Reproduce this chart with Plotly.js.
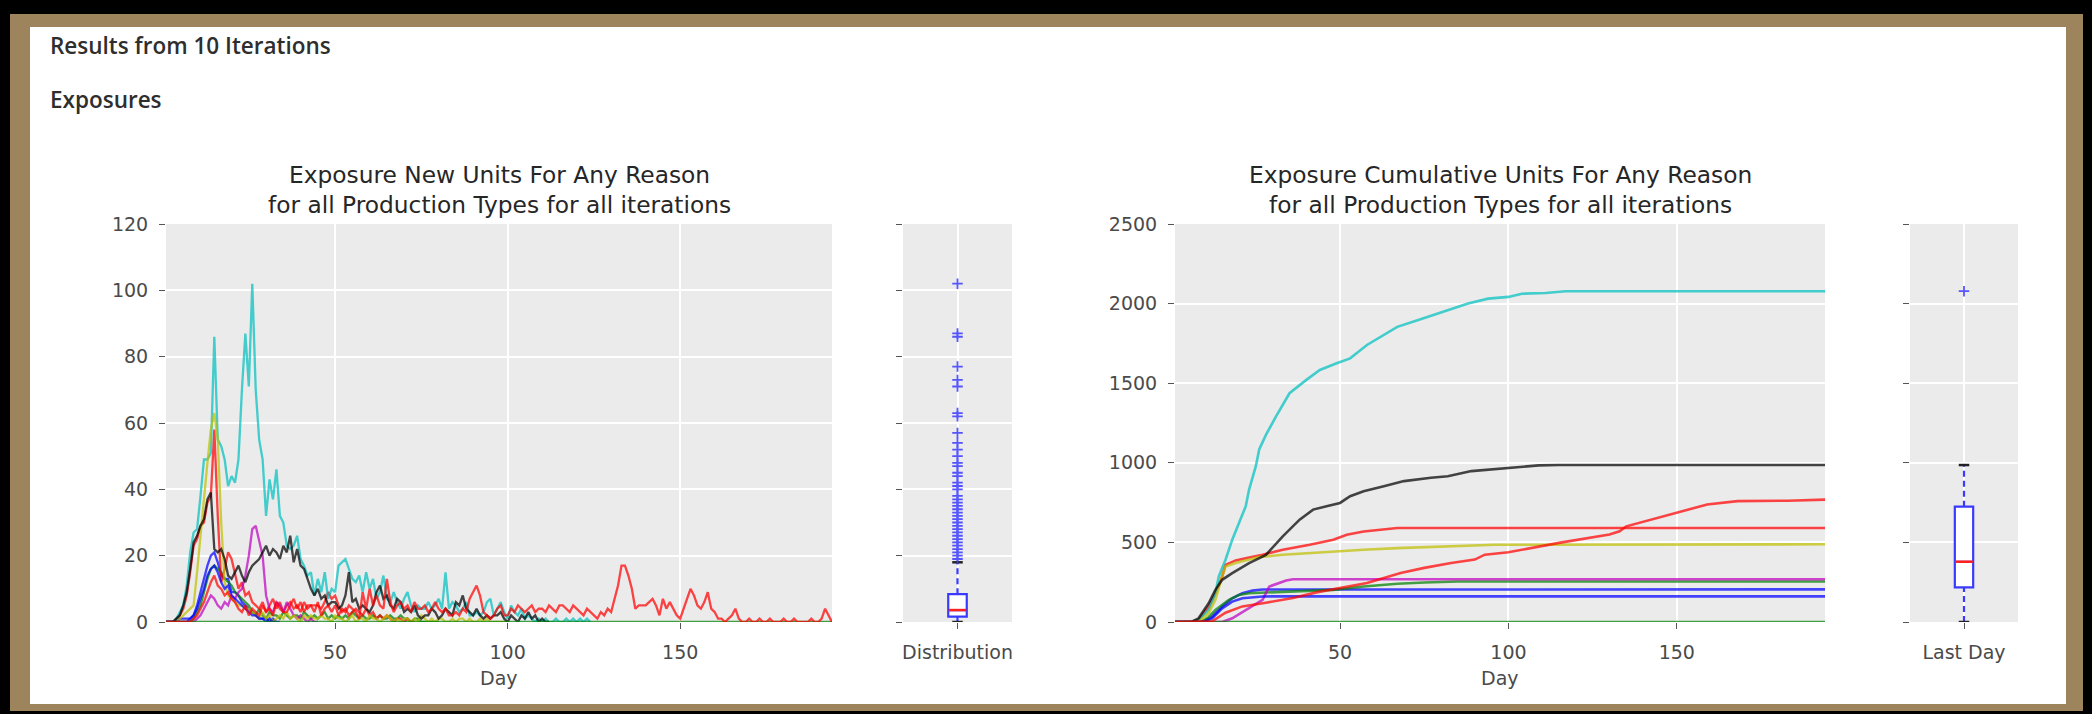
<!DOCTYPE html>
<html><head><meta charset="utf-8">
<script src="https://cdn.plot.ly/plotly-3.0.1.min.js"></script>
<style>
html,body{margin:0;padding:0;background:#000;width:2092px;height:714px;overflow:hidden}
#tan{position:absolute;left:10px;top:14px;width:2073px;height:697px;background:#9d845c}
#white{position:absolute;left:30px;top:27px;width:2036px;height:677px;background:#fff}
#chart{position:absolute;left:0;top:0;width:2092px;height:714px}
</style></head><body>
<div id="tan"></div><div id="white"></div><div id="chart"></div>
<script>
// ---------------- data ----------------
const headerText = 'Results from 10 Iterations';
const sectionText = 'Exposures';
const titleNew = 'Exposure New Units For Any Reason<br>for all Production Types for all iterations';
const titleCum = 'Exposure Cumulative Units For Any Reason<br>for all Production Types for all iterations';
const xLabel = 'Day';
const distLabel = 'Distribution';
const lastLabel = 'Last Day';

const dayRange = [1, 194];
const dayTicks = [50, 100, 150];
const newTicks = [0, 20, 40, 60, 80, 100, 120];
const cumTicks = [0, 500, 1000, 1500, 2000, 2500];

// daily new exposures per iteration (day 1 onward)
const newBlue1 = [0,0,0,0,1,1,1,1,2,5, 9,13,17,20,21,18,14,13,13,9, 9,8,6,5,4,3,2,1,1,1, 0,1,0,0];
const newGreen1 = [0,0,0,0,0,0,0,0,1,3, 5,9,13,16,17,16,15,13,12,11, 9,8,7,6,5,
  3,2,4,2,1,3,2,2,1,3, 2,1,2,2,1,3,2,1,2,1, 2,3,1,2,1,2,1,2,1,3, 2,1,2,1,1,2,1,2,1,1, 2,1,1,2,1,1,0,1,1,0, 0,0,0,0,0];
const newRed1 = [0,0,0,1,2,4,8,15,23,25, 29,30,36,38,58,32,12,16,21,19, 14,10,12,8,9,6,5,4,6,3,
  5,7,4,6,3,5,6,4,5,3, 6,4,5,5,5,4,6,9,7,8, 5,3,4,2,3,4,3,2,4,2, 3,1,2,1,2,1,0,1,1,0, 1,0,0];
const newCyan = [0,0,0,1,3,5,11,21,27,28, 38,49,49,51,86,55,53,49,41,44, 42,49,70,87,71,102,70,55,49,32,
  43,37,46,32,30,23,22,23,26,19, 17,14,15,8,13,9,15,7,10,9, 17,18,19,16,13,12,14,9,15,10,
  13,7,9,14,7,6,9,6,4,7, 9,5,3,5,4,4,6,4,5,7, 4,15,4,6,5,3,4,6,2,2, 3,2,3,6,7,2,4,6,3,1,
  5,3,2,4,1,2,1,0,1,0, 1,0,0,1,0,0,1,0,1,0, 1,0,1,0];
const newMagenta = [0,0,0,0,0,0,0,0,0,1, 2,4,6,8,7,5,4,6,5,8, 7,9,10,14,20,28,29,24,20,8,
  4,3,6,5,3,6,4,2,1,2, 1,0,1,0,0];
const newYellow = [0,0,0,0,1,2,3,4,5,15, 25,37,48,58,63,55,30,12,8,7, 6,5,5,4,4,3,
  2,1,3,1,2,0,1,2,1,3,1,2,1,0,2,1,2,1,1,2,1,
  1,0,2,1,1,0,1,2,0,1,1,0,2,1,1,0,1,2,1,0,
  1,0,1,1,0,1,0,2,1,0,1,0,1,1,0,0,1,0,1,1,0,1,0,0,1,0,1,0,0, 0,0,0,0];
const newBlack = [0,0,0,1,2,5,9,16,24,26, 29,31,37,39,22,21,22,19,14,13, 15,17,14,12,15,17,18,19,21,23,
  20,22,21,19,23,21,26,18,22,17, 16,13,10,8,10,7,8,5,6,6, 4,5,8,15,6,7,4,5,4,3,
  5,9,11,7,8,5,4,7,6,3, 4,3,5,2,1,2,2,4,3,1, 2,4,3,2,6,5,8,4,3,2, 4,2,1,2,1,2,2,3,1,0,
  2,1,0,2,1,3,1,2,0,1, 0,0];
const newBlue2 = [0,0,0,0,0,0,0,1,2,4, 7,10,14,16,17,15,12,10,11,8, 7,6,5,4,3,2,2,1,1,0, 1,0,0];
const newGreen2Days = [1, 194];
const newGreen2 = [0, 0];
const newRed2 = [0,0,0,0,0,0,0,0,1, 2,4,6,9,12,14,11, 10,8,9,7,6, 4,3,5,2,4,3,2, 5,3,4,2,6,4,3,3,
  5,7,4,6,3,5,5, 3,6,2,4,5,3,5, 2,4,3,5,4,3,1,9, 4,10,5,8,5, 4,13,6,3,5, 6,4,5,3,6,4,4,
  5,3,4,6,4,3,4,2, 2,3,2,4,3,7, 9,11,8,3, 2,1,2,4,5,2,2,
  4,3,5,4,3,4,5,3,4,4,3,5,4,3,5, 5,4,3,5,4,3,2,4,3,2,1,3,2,4,3,
  7,11,17,17,14,10,4, 5,5,5,6,7,5,2,7,4,6,4,2,1, 4,7,10,8,5,4,6,9,4, 3,1,1,0,1,2,4,1,0,
  0,1,0,0,1,0,0,1,0,0,0,1,0,0,1,0,0,0,0,1,0,0,1,4,2,0];

// cumulative exposures per iteration (day, value pairs)
const cumBlue1Days = [1,8,10,12,15,18,21,24,27,194];
const cumBlue1 = [0,0,10,34,97,149,181,197,204,205];
const cumGreen1Days = [1,9,11,13,17,20,23,28,38,48,57,67,75,85,194];
const cumGreen1 = [0,2,30,76,139,170,181,185,191,202,223,240,248,254,254];
const cumRed1Days = [1,6,8,11,13,15,16,19,22,27,33,41,48,52,57,67,194];
const cumRed1 = [0,1,13,97,181,286,359,387,401,422,454,485,517,548,569,590,590];
const cumCyanDays = [1,6,8,11,13,14,16,18,20,22,23,25,26,28,31,35,40,44,49,53,58,62,67,73,79,84,88,94,100,104,111,117,194];
const cumCyan = [0,2,13,76,181,286,391,517,622,727,832,979,1084,1175,1292,1437,1521,1583,1625,1656,1740,1792,1854,1896,1937,1969,2000,2031,2042,2062,2067,2078,2078];
const cumMagentaDays = [1,15,18,22,25,27,29,31,34,36,194];
const cumMagenta = [0,0,23,76,118,139,223,240,261,269,269];
const cumYellowDays = [1,8,11,13,15,16,19,26,33,48,57,67,82,96,194];
const cumYellow = [0,0,55,139,286,349,370,408,422,443,454,464,475,485,488];
const cumBlackDays = [1,6,8,11,13,15,18,23,28,33,38,42,46,50,53,57,63,69,77,82,89,96,100,109,115,194];
const cumBlack = [0,2,23,118,202,265,307,370,422,538,643,706,727,748,790,821,853,885,906,916,948,962,970,984,986,986];
const cumBlue2Days = [1,8,10,12,15,18,21,24,27,30,194];
const cumBlue2 = [0,0,5,23,86,128,149,155,160,161,161];
const cumGreen2Days = [1,194];
const cumGreen2 = [0,0];
const cumRed2Days = [1,9,12,16,21,28,36,43,50,58,63,68,75,83,90,93,100,115,130,133,135,146,150,159,168,183,194];
const cumRed2 = [0,0,4,58,98,121,151,186,214,245,277,308,340,371,392,423,438,497,549,570,601,664,686,738,759,762,769];

// box plot of all daily values
const distQ1 = [1.6];
const distMedian = [3.6];
const distQ3 = [8.4];
const distLowerWhisker = [0];
const distUpperWhisker = [18];
const distOutliers = [102,87,86,77,73,71,63,62,57,54,52,50,48,47,45,44,42,41,40,38,37,36,35,34,33,32,31,30,29,28,27,26,25,24,23,22,21,20,19];

// ---------------- layout helpers ----------------
const W = 2092, H = 714;
const px = x => x / W;
const py = y => 1 - y / H;
const days = Array.from({length: 194}, (_, i) => i + 1);

const C = {b:'#0000ff', g:'#008000', r:'#ff0000', c:'#00bfbf', m:'#bf00bf', y:'#bfbf00', k:'#000000'};
const boxBlue = '#3a3aff';

const dailySeries = [
  [newBlue1, null, C.b], [newGreen1, null, C.g], [newRed1, null, C.r], [newCyan, null, C.c],
  [newMagenta, null, C.m], [newYellow, null, C.y], [newBlack, null, C.k], [newBlue2, null, C.b],
  [newGreen2, newGreen2Days, C.g], [newRed2, null, C.r]
];
const cumSeries = [
  [cumBlue1, cumBlue1Days, C.b], [cumGreen1, cumGreen1Days, C.g], [cumRed1, cumRed1Days, C.r],
  [cumCyan, cumCyanDays, C.c], [cumMagenta, cumMagentaDays, C.m], [cumYellow, cumYellowDays, C.y],
  [cumBlack, cumBlackDays, C.k], [cumBlue2, cumBlue2Days, C.b], [cumGreen2, cumGreen2Days, C.g],
  [cumRed2, cumRed2Days, C.r]
];

const traces = [];
dailySeries.forEach(([y, x, col], i) => {
  traces.push({type:'scatter', mode:'lines', x: x || days.slice(0, y.length), y,
    line:{color:col, width:2.3}, opacity:0.72, xaxis:'x', yaxis:'y', hoverinfo:'skip', name:'Iteration ' + (i+1)});
});
cumSeries.forEach(([y, x, col], i) => {
  traces.push({type:'scatter', mode:'lines', x, y,
    line:{color:col, width:2.6}, opacity:0.72, xaxis:'x3', yaxis:'y3', hoverinfo:'skip', name:'Iteration ' + (i+1)});
});

// percentile like numpy's default (linear)
function pct(sorted, p) {
  const idx = p * (sorted.length - 1), lo = Math.floor(idx), hi = Math.ceil(idx);
  return sorted[lo] + (sorted[hi] - sorted[lo]) * (idx - lo);
}
const lastDay = cumSeries.map(s => s[0][s[0].length - 1]).sort((a, b) => a - b);
const lq1 = pct(lastDay, 0.25), lmed = pct(lastDay, 0.5), lq3 = pct(lastDay, 0.75);
const liqr = lq3 - lq1;
const lInside = lastDay.filter(v => v >= lq1 - 1.5 * liqr && v <= lq3 + 1.5 * liqr);
const lLow = Math.min(...lInside), lHigh = Math.max(...lInside);
const lOut = lastDay.filter(v => v < lLow || v > lHigh);

function boxTraces(xa, ya, q1, med, q3, lo, hi, outs) {
  return [
    {type:'scatter', mode:'lines', x:[1,1,null,1,1], y:[lo, q1, null, q3, hi],
      line:{color:boxBlue, width:2.2, dash:'6px,4px'}, xaxis:xa, yaxis:ya, hoverinfo:'skip'},
    {type:'box', x:[1], q1:[q1], median:[med], q3:[q3], lowerfence:[q1], upperfence:[q3],
      width:0.17, whiskerwidth:0, fillcolor:'#ffffff', line:{color:boxBlue, width:2.2},
      boxpoints:false, xaxis:xa, yaxis:ya, hoverinfo:'skip'},
    {type:'scatter', mode:'markers', x:[1], y:[med],
      marker:{symbol:'line-ew-open', size:12.5, color:'#ff2020', line:{color:'#ff2020', width:2.5}}, xaxis:xa, yaxis:ya, hoverinfo:'skip'},
    {type:'scatter', mode:'markers', x:[1,1], y:[lo, hi],
      marker:{symbol:'line-ew-open', size:7.5, color:'#222', line:{color:'#222', width:2.5}}, xaxis:xa, yaxis:ya, hoverinfo:'skip'},
    {type:'scatter', mode:'markers', x:outs.map(() => 1), y:outs,
      marker:{symbol:'cross-thin-open', size:7.5, color:boxBlue, line:{color:boxBlue, width:1.8}}, opacity:0.85, xaxis:xa, yaxis:ya, hoverinfo:'skip'}
  ];
}
traces.push(...boxTraces('x2', 'y2', distQ1[0], distMedian[0], distQ3[0], distLowerWhisker[0], distUpperWhisker[0], distOutliers));
traces.push(...boxTraces('x4', 'y4', lq1, lmed, lq3, lLow, lHigh, lOut));

const tickFont = {family:'DejaVu Sans, sans-serif', size:19, color:'#4a4a4a'};
function axis(domain, range, tickvals, ticktext, anchor, showLabels) {
  return {domain, range, tickvals, ticktext, anchor, showgrid:true, gridcolor:'#ffffff', gridwidth:2,
    zeroline:false, showline:false, ticks:'outside', ticklen:6, tickwidth:1, tickcolor:'#555',
    tickfont:tickFont, ticklabelstandoff:7, showticklabels:showLabels, fixedrange:true, automargin:false};
}
const yDom = [py(622), py(224)];
const dNew = [px(166), px(832)], dDist = [px(903), px(1012)], dCum = [px(1175), px(1825)], dLast = [px(1910), px(2018)];
const headFont = {family:'Open Sans, sans-serif', size:22.5, weight:600, color:'#2e2e2e'};
const titleFont = {family:'DejaVu Sans, sans-serif', size:23.3, color:'#262626'};

const layout = {
  width:W, height:H, margin:{l:0, r:0, t:0, b:0, pad:0},
  paper_bgcolor:'rgba(0,0,0,0)', plot_bgcolor:'#ebebeb', showlegend:false,
  xaxis: axis(dNew, dayRange, dayTicks, dayTicks.map(String), 'y', true),
  yaxis: axis(yDom, [0, 120], newTicks, newTicks.map(String), 'x', true),
  xaxis2: axis(dDist, [0.5, 1.5], [1], [distLabel], 'y2', true),
  yaxis2: axis(yDom, [0, 120], newTicks, newTicks.map(String), 'x2', false),
  xaxis3: axis(dCum, dayRange, dayTicks, dayTicks.map(String), 'y3', true),
  yaxis3: axis(yDom, [0, 2500], cumTicks, cumTicks.map(String), 'x3', true),
  xaxis4: axis(dLast, [0.5, 1.5], [1], [lastLabel], 'y4', true),
  yaxis4: axis(yDom, [0, 2500], cumTicks, cumTicks.map(String), 'x4', false),
  annotations: [
    {text:headerText, xref:'paper', yref:'paper', x:px(48), y:py(45), xanchor:'left', yanchor:'middle', showarrow:false, font:headFont},
    {text:sectionText, xref:'paper', yref:'paper', x:px(48), y:py(100), xanchor:'left', yanchor:'middle', showarrow:false, font:headFont},
    {text:titleNew, xref:'paper', yref:'paper', x:px(499), y:py(189.5), xanchor:'center', yanchor:'middle', showarrow:false, font:titleFont},
    {text:titleCum, xref:'paper', yref:'paper', x:px(1500), y:py(189.5), xanchor:'center', yanchor:'middle', showarrow:false, font:titleFont},
    {text:xLabel, xref:'paper', yref:'paper', x:px(499), y:py(678), xanchor:'center', yanchor:'middle', showarrow:false, font:tickFont},
    {text:xLabel, xref:'paper', yref:'paper', x:px(1500), y:py(678), xanchor:'center', yanchor:'middle', showarrow:false, font:tickFont}
  ]
};

Plotly.newPlot('chart', traces, layout, {displayModeBar:false, staticPlot:true});
</script></body></html>
